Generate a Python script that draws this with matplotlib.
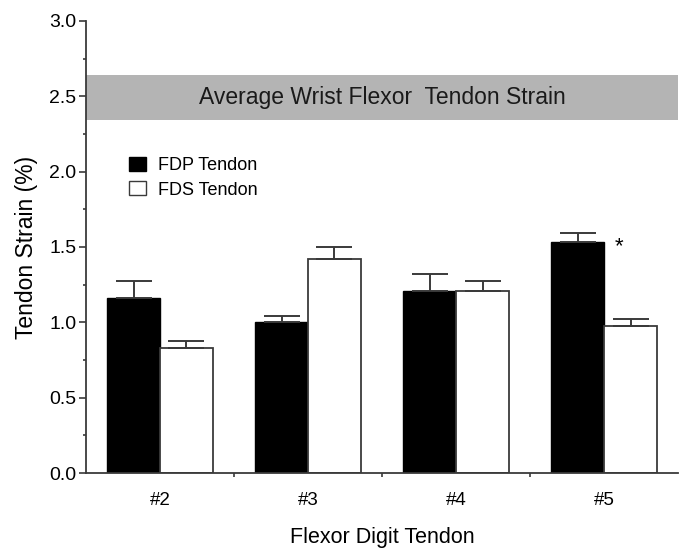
import numpy as np
import matplotlib.pyplot as plt
from matplotlib.patches import Patch
from matplotlib.ticker import MultipleLocator, FixedLocator

plt.rcParams['font.family'] = ['Liberation Sans', 'DejaVu Sans']

digits = ['#2', '#3', '#4', '#5']
fdp = [1.16, 1.00, 1.21, 1.53]
fdp_err = [0.115, 0.04, 0.11, 0.06]
fds = [0.83, 1.42, 1.21, 0.975]
fds_err = [0.045, 0.08, 0.065, 0.045]
band_lo, band_hi = 2.34, 2.64

axcol = '#3a3a3a'
fig = plt.figure(figsize=(6.79, 5.5), dpi=100)
ax = fig.add_axes([0.1267, 0.14, 0.872, 0.822])

x = np.arange(len(digits))
w = 0.357
ax.axhspan(band_lo, band_hi, color='#b4b4b4', lw=0, zorder=0)
ax.text(1.5, (band_lo + band_hi) / 2, 'Average Wrist Flexor  Tendon Strain',
        ha='center', va='center', fontsize=16.5, color='#1a1a1a')

ek = dict(ecolor=axcol, elinewidth=1.4, capsize=13, capthick=1.4)
ax.bar(x - w / 2, fdp, w, color='black', edgecolor='black', lw=1,
       yerr=[np.zeros(4), fdp_err], error_kw=ek, zorder=2)
ax.bar(x + w / 2, fds, w, color='white', edgecolor=axcol, lw=1.3,
       yerr=[np.zeros(4), fds_err], error_kw=ek, zorder=2)

ax.text(3.1, 1.5, '*', fontsize=16, ha='center', va='center')

handles = [Patch(facecolor='black', edgecolor='black', label='FDP Tendon'),
           Patch(facecolor='white', edgecolor=axcol, label='FDS Tendon')]
ax.legend(handles=handles, loc='upper left', bbox_to_anchor=(0.06, 0.715),
          frameon=False, fontsize=13, handlelength=0.95, handleheight=0.8,
          handletextpad=0.65, labelspacing=0.4, borderaxespad=0)

ax.set_xlim(-0.5, 3.5)
ax.set_ylim(0, 3.0)
ax.set_xticks(x)
ax.set_xticklabels(digits, fontsize=13.5)
ax.xaxis.set_minor_locator(FixedLocator([0.5, 1.5, 2.5]))
ax.tick_params(axis='x', which='major', length=0, pad=14)
ax.tick_params(axis='x', which='minor', length=3, width=1.2, color=axcol)
ax.set_yticks(np.arange(0, 3.01, 0.5))
ax.set_yticklabels([f'{v:.1f}' for v in np.arange(0, 3.01, 0.5)], fontsize=14)
ax.yaxis.set_minor_locator(MultipleLocator(0.25))
ax.tick_params(axis='y', which='major', length=5, width=1.2, color=axcol, pad=2)
ax.tick_params(axis='y', which='minor', length=2.5, width=1.2, color=axcol)

for s in ['top', 'right']:
    ax.spines[s].set_visible(False)
for s in ['left', 'bottom']:
    ax.spines[s].set_color(axcol)
    ax.spines[s].set_linewidth(1.3)

ax.set_ylabel('Tendon Strain (%)', fontsize=16.5, labelpad=8)
ax.set_xlabel('Flexor Digit Tendon', fontsize=15.5, labelpad=13)

fig.savefig('out.png', dpi=100)
